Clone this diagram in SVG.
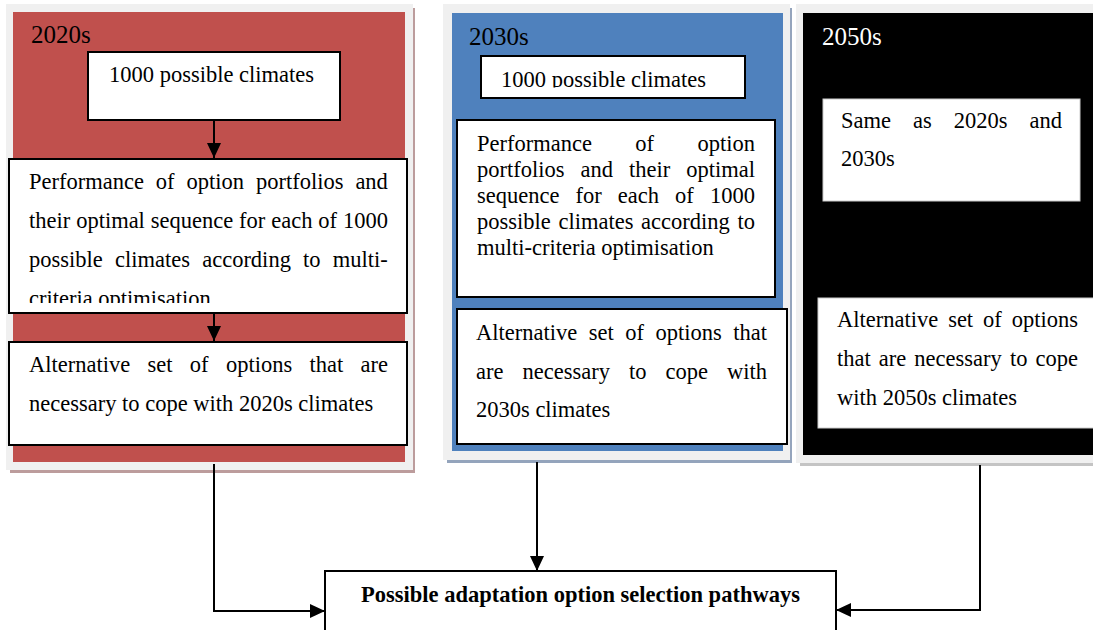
<svg xmlns="http://www.w3.org/2000/svg" width="1093" height="630" viewBox="0 0 1093 630">
<style>
  text { font-family: "Liberation Serif", "Times New Roman", serif; font-size: 22.5px; fill: #000; }
  .head { font-size: 25px; }
  .white { fill: #fff; }
  .bold { font-weight: bold; }
  .box { fill: #fff; stroke: #000; stroke-width: 2; }
  .frame { fill: #f0f0f0; }
  .conn { fill: none; stroke: #000; stroke-width: 2; }
</style>
<defs>
  <marker id="arr" markerUnits="userSpaceOnUse" markerWidth="16" markerHeight="14" refX="15" refY="7" orient="auto">
    <path d="M0,0 L15,7 L0,14 Z" fill="#000"/>
  </marker>
  <clipPath id="clipP1"><rect x="10" y="160" width="396" height="143"/></clipPath>
  <clipPath id="clipC2"><rect x="482" y="57" width="262" height="30.5"/></clipPath>
</defs>
<rect width="1093" height="630" fill="#fff"/>

<g id="panel-2020s">
  <rect x="10" y="469" width="405" height="4" fill="#bc9c9c"/>
  <rect x="413" y="8" width="2" height="465" fill="#bc9c9c"/>
  <rect class="frame" x="6" y="4" width="407" height="466"/>
  <rect x="13" y="12" width="392" height="450" fill="#C0504D"/>
  <text class="head" x="31" y="43">2020s</text>
</g>

<g id="panel-2030s">
  <rect x="447" y="459" width="345" height="4" fill="#94a4bc"/>
  <rect x="790" y="8" width="2" height="455" fill="#94a4bc"/>
  <rect class="frame" x="443" y="4" width="347" height="456"/>
  <rect x="452" y="13" width="331" height="438" fill="#4F81BD"/>
  <text class="head" x="469" y="45">2030s</text>
</g>

<g id="panel-2050s">
  <rect x="800" y="462" width="293" height="4" fill="#c4c4c4"/>
  <rect class="frame" x="796" y="4" width="297" height="459"/>
  <rect x="803" y="13" width="290" height="442" fill="#000"/>
  <text class="head white" x="822" y="45">2050s</text>
</g>

<g id="climates-2020s">
  <rect class="box" x="88" y="52" width="252" height="68"/>
  <text x="109" y="82">1000 possible climates</text>
</g>

<g id="performance-2020s">
  <rect class="box" x="9" y="159" width="398" height="154"/>
  <g clip-path="url(#clipP1)">
    <text x="29" y="189" word-spacing="6.3">Performance of option portfolios and</text>
    <text x="29" y="228" word-spacing="0.27">their optimal sequence for each of 1000</text>
    <text x="29" y="267" word-spacing="6.6">possible climates according to multi-</text>
    <text x="29" y="306">criteria optimisation</text>
  </g>
</g>

<g id="alternative-2020s">
  <rect class="box" x="9" y="342" width="398" height="103"/>
  <text x="29" y="372" word-spacing="11.7">Alternative set of options that are</text>
  <text x="29" y="411">necessary to cope with 2020s climates</text>
</g>

<g id="climates-2030s">
  <rect class="box" x="481" y="56" width="264" height="42"/>
  <g clip-path="url(#clipC2)">
    <text x="501" y="87">1000 possible climates</text>
  </g>
</g>

<g id="performance-2030s">
  <rect class="box" x="457" y="120" width="318" height="177"/>
  <text x="477" y="151" word-spacing="37.8">Performance of option</text>
  <text x="477" y="177" word-spacing="10.4">portfolios and their optimal</text>
  <text x="477" y="203" word-spacing="10.45">sequence for each of 1000</text>
  <text x="477" y="229" word-spacing="2.04">possible climates according to</text>
  <text x="477" y="255">multi-criteria optimisation</text>
</g>

<g id="alternative-2030s">
  <rect class="box" x="457" y="309" width="330" height="135"/>
  <text x="476" y="340" word-spacing="5.9">Alternative set of options that</text>
  <text x="476" y="379" word-spacing="13.4">are necessary to cope with</text>
  <text x="476" y="417">2030s climates</text>
</g>

<g id="same-2050s">
  <rect x="823" y="99" width="257" height="102" fill="#fff" stroke="#ccc" stroke-width="1"/>
  <text x="841" y="128" word-spacing="16.4">Same as 2020s and</text>
  <text x="841" y="166">2030s</text>
</g>

<g id="alternative-2050s">
  <rect x="818" y="298" width="280" height="130" fill="#fff" stroke="#ccc" stroke-width="1"/>
  <text x="837" y="327" word-spacing="4.3">Alternative set of options</text>
  <text x="837" y="366" word-spacing="2.45">that are necessary to cope</text>
  <text x="837" y="405">with 2050s climates</text>
</g>

<g id="pathways">
  <rect class="box" x="325" y="571" width="511" height="70"/>
  <text class="bold" x="580.5" y="602" text-anchor="middle">Possible adaptation option selection pathways</text>
</g>

<g id="connectors">
  <path class="conn" d="M214,120 V158" marker-end="url(#arr)"/>
  <path class="conn" d="M214,313 V341" marker-end="url(#arr)"/>
  <path class="conn" d="M214,464 V611 H325" marker-end="url(#arr)"/>
  <path class="conn" d="M537,462 V571" marker-end="url(#arr)"/>
  <path class="conn" d="M980,465 V610 H836" marker-end="url(#arr)"/>
</g>
</svg>
